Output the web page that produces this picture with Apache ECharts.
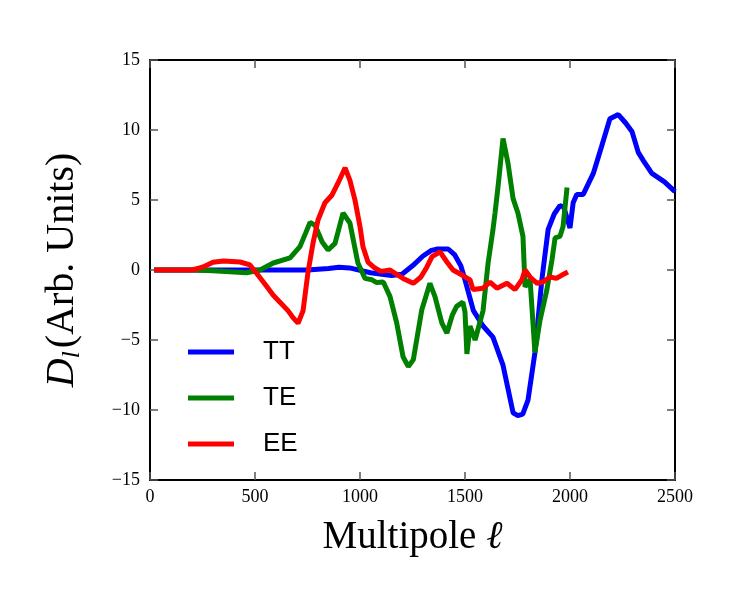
<!DOCTYPE html>
<html lang="en">
<head>
  <meta charset="UTF-8">
  <title>Power spectra</title>
  <script src="https://cdn.jsdelivr.net/npm/echarts@6/dist/echarts.min.js"></script>
  <style>
    html, body { margin: 0; padding: 0; background: #fff; }
    #chart { width: 750px; height: 600px; }
  </style>
</head>
<body>
<div id="chart"></div>
<script>
// values
const ttL = [20, 200, 400, 600, 750, 850, 900, 950, 1050, 1150, 1200, 1250, 1300, 1340, 1370, 1420, 1450, 1480, 1500, 1540, 1586, 1633, 1681, 1729, 1752, 1775, 1800, 1833, 1866, 1896, 1925, 1952, 1970, 2000, 2015, 2032, 2063, 2111, 2150, 2190, 2230, 2265, 2295, 2325, 2350, 2390, 2450, 2500];
const ttD = [0, 0, 0, 0, 0, 0.1, 0.2, 0.15, -0.2, -0.4, -0.3, 0.3, 1.0, 1.4, 1.5, 1.5, 1.1, 0.3, -0.7, -2.9, -4.0, -4.8, -6.8, -10.2, -10.4, -10.3, -9.3, -5.9, -0.7, 2.9, 4.0, 4.6, 4.5, 3.0, 4.8, 5.4, 5.4, 6.9, 8.8, 10.8, 11.1, 10.5, 9.9, 8.4, 7.8, 6.9, 6.3, 5.6];

const teL = [20, 200, 300, 460, 524, 587, 667, 714, 740, 762, 786, 820, 848, 881, 919, 952, 990, 1024, 1057, 1080, 1111, 1143, 1175, 1205, 1230, 1254, 1294, 1333, 1357, 1390, 1414, 1440, 1460, 1490, 1500, 1509, 1524, 1548, 1586, 1610, 1633, 1643, 1657, 1681, 1705, 1729, 1752, 1776, 1786, 1810, 1833, 1857, 1890, 1914, 1929, 1952, 1967, 1986];
const teD = [0, 0, -0.05, -0.2, 0, 0.5, 0.86, 1.67, 2.6, 3.4, 3.2, 2.0, 1.43, 1.9, 4.07, 3.36, 0.5, -0.6, -0.7, -0.9, -0.86, -1.9, -3.8, -6.2, -6.9, -6.4, -2.86, -0.95, -1.9, -3.8, -4.5, -3.2, -2.6, -2.3, -3.0, -6.0, -4.0, -5.0, -2.9, 0.5, 2.86, 4.07, 5.9, 9.4, 7.6, 5.1, 4.07, 2.4, -1.2, -0.7, -5.9, -3.6, -1.4, 0.7, 2.3, 2.4, 3.1, 5.9];

const eeL = [20, 200, 250, 300, 350, 429, 476, 514, 557, 587, 619, 657, 681, 705, 729, 752, 776, 800, 833, 867, 895, 929, 952, 976, 1000, 1014, 1038, 1071, 1100, 1143, 1205, 1254, 1290, 1318, 1343, 1381, 1414, 1443, 1486, 1524, 1538, 1586, 1619, 1652, 1700, 1738, 1771, 1786, 1810, 1843, 1871, 1905, 1935, 1962, 1990];
const eeD = [0, 0, 0.2, 0.55, 0.65, 0.57, 0.36, -0.36, -1.2, -1.8, -2.3, -2.9, -3.4, -3.8, -2.9, -0.2, 1.9, 3.57, 4.8, 5.36, 6.2, 7.3, 6.4, 5.0, 3.1, 1.67, 0.57, 0.14, -0.1, 0, -0.6, -0.95, -0.5, 0.2, 0.95, 1.3, 0.57, 0, -0.36, -0.7, -1.4, -1.3, -0.86, -1.3, -0.95, -1.4, -0.7, 0, -0.5, -0.95, -0.86, -0.5, -0.6, -0.36, -0.14];

const xTicks = [0, 500, 1000, 1500, 2000, 2500];
const yTicks = [-15, -10, -5, 0, 5, 10, 15];

const serif = "'Liberation Serif', 'DejaVu Serif', serif";
const pair = (xs, ys) => xs.map((x, i) => [x, ys[i]]);

const tickStyle = { show: true, inside: true, length: 8, lineStyle: { color: '#555', width: 1.5 } };
const frameLine = { show: true, onZero: false, lineStyle: { color: '#000', width: 2 } };
const labelX = { color: '#000', fontFamily: serif, fontSize: 18, margin: 8, formatter: v => String(v) };
const labelY = {
  color: '#000', fontFamily: serif, fontSize: 18, margin: 10,
  formatter: v => String(v).replace('-', '\u2212')
};

const chart = echarts.init(document.getElementById('chart'));
chart.setOption({
  animation: false,
  grid: { left: 150, right: 75, top: 60, bottom: 120 },
  legend: {
    orient: 'vertical', left: 183, top: 334,
    icon: 'rect', itemWidth: 46, itemHeight: 5, itemGap: 20,
    textStyle: { fontFamily: "'Liberation Sans', Arial, sans-serif", fontSize: 26, color: '#000', padding: [0, 0, 0, 24], lineHeight: 26 },
    data: ['TT', 'TE', 'EE']
  },
  xAxis: [{
    type: 'value', min: xTicks[0], max: xTicks[xTicks.length - 1], interval: 500,
    axisLine: frameLine, axisTick: tickStyle, splitLine: { show: false },
    axisLabel: labelX,
    name: '{t|Multipole }{e|\u2113}', nameLocation: 'middle', nameGap: 38,
    nameTextStyle: {
      rich: {
        t: { fontFamily: serif, fontSize: 39, color: '#000' },
        e: { fontFamily: serif, fontSize: 39, fontStyle: 'italic', color: '#000' }
      }
    }
  }, {
    type: 'value', position: 'top', min: xTicks[0], max: xTicks[xTicks.length - 1], interval: 500,
    axisLine: frameLine, axisTick: tickStyle, axisLabel: { show: false }, splitLine: { show: false }
  }],
  yAxis: [{
    type: 'value', min: yTicks[0], max: yTicks[yTicks.length - 1], interval: 5,
    axisLine: frameLine, axisTick: tickStyle, splitLine: { show: false },
    axisLabel: labelY,
    name: '{d|D}{s|l}{t|(Arb. Units)}', nameLocation: 'middle', nameGap: 66,
    nameTextStyle: {
      rich: {
        d: { fontFamily: serif, fontSize: 40, fontStyle: 'italic', color: '#000', lineHeight: 44 },
        s: { fontFamily: serif, fontSize: 26, fontStyle: 'italic', color: '#000', lineHeight: 26, padding: [20, 3, 0, 0] },
        t: { fontFamily: serif, fontSize: 40, color: '#000', lineHeight: 44 }
      }
    }
  }, {
    type: 'value', position: 'right', min: yTicks[0], max: yTicks[yTicks.length - 1], interval: 5,
    axisLine: frameLine, axisTick: tickStyle, axisLabel: { show: false }, splitLine: { show: false }
  }],
  series: [
    { name: 'TT', type: 'line', data: pair(ttL, ttD), showSymbol: false, color: '#0000ff', lineStyle: { width: 5, color: '#0000ff' } },
    { name: 'TE', type: 'line', data: pair(teL, teD), showSymbol: false, color: '#008000', lineStyle: { width: 5, color: '#008000' } },
    { name: 'EE', type: 'line', data: pair(eeL, eeD), showSymbol: false, color: '#ff0000', lineStyle: { width: 5, color: '#ff0000' } }
  ]
});
</script>
</body>
</html>
